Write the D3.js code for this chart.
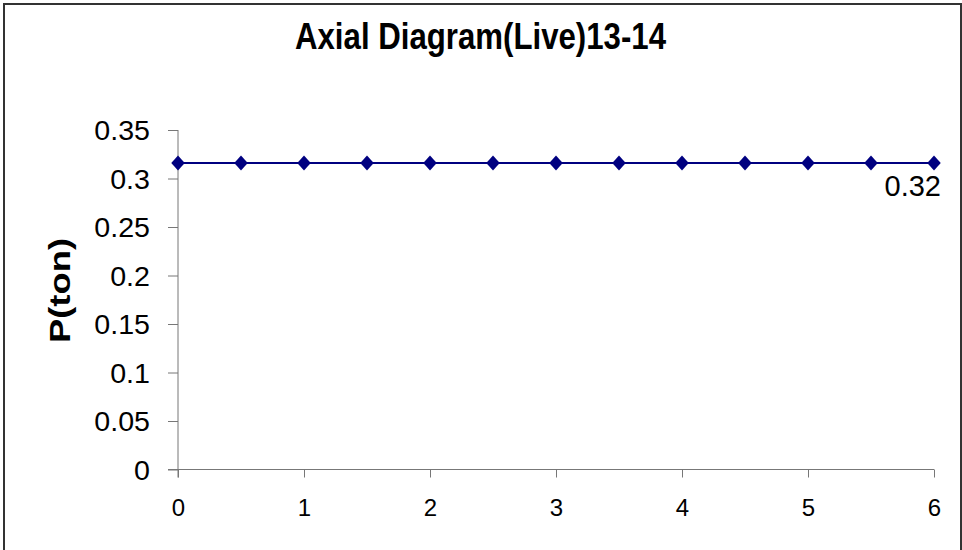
<!DOCTYPE html>
<html>
<head>
<meta charset="utf-8">
<script src="https://cdn.jsdelivr.net/npm/d3@7/dist/d3.min.js"></script>
<style>
  html, body { margin: 0; padding: 0; background: #fff; }
  svg { display: block; font-family: "Liberation Sans", Arial, sans-serif; }
</style>
</head>
<body>
<svg id="chart" width="962" height="550"></svg>
<script>
// Axial force along the member, positions in m
const positions = [0, 0.5, 1, 1.5, 2, 2.5, 3, 3.5, 4, 4.5, 5, 5.5, 6];
const forces = [0.316, 0.316, 0.316, 0.316, 0.316, 0.316, 0.316, 0.316, 0.316, 0.316, 0.316, 0.316, 0.316];
const xTicks = [0, 1, 2, 3, 4, 5, 6];
const yTicks = [0, 0.05, 0.1, 0.15, 0.2, 0.25, 0.3, 0.35];
const titleText = "Axial Diagram(Live)13-14";
const yTitle = "P(ton)";

const svg = d3.select("#chart");

// outer frame
svg.append("rect")
  .attr("x", 4).attr("y", 4)
  .attr("width", 957).attr("height", 560)
  .attr("fill", "#fff")
  .attr("stroke", "#333").attr("stroke-width", 2);

const x = d3.scaleLinear().domain([0, 6]).range([178, 934]);
const y = d3.scaleLinear().domain([0, 0.35]).range([469.5, 130]);

const axisColor = "#777";

// y axis
const yAxis = svg.append("g")
  .attr("transform", `translate(${x(0)},0)`)
  .call(d3.axisLeft(y).tickValues(yTicks).tickSize(10).tickPadding(18)
        .tickFormat(d => d3.format("")(+d.toFixed(2))));
yAxis.select(".domain").attr("stroke", axisColor).attr("d", `M0,${y(0.35)}V${y(0) + 8}`);
yAxis.selectAll(".tick line").attr("stroke", axisColor);
yAxis.selectAll(".tick text")
  .attr("fill", "#000")
  .style("font-size", "27px")
  .attr("dy", "0.36em")
  .each(function () {
    const w = this.getComputedTextLength();
    d3.select(this).attr("textLength", w * 1.06).attr("lengthAdjust", "spacingAndGlyphs");
  });

// x axis
const xAxis = svg.append("g")
  .attr("transform", `translate(0,${y(0)})`)
  .call(d3.axisBottom(x).tickValues(xTicks).tickSize(8).tickPadding(21).tickFormat(d3.format("d")));
xAxis.select(".domain").attr("stroke", axisColor).attr("d", `M${x(0) - 10},0H${x(6)}`);
xAxis.selectAll(".tick line").attr("stroke", axisColor);
xAxis.selectAll(".tick text")
  .attr("fill", "#000")
  .style("font-size", "24px")
  .attr("dy", "0.71em");

// series line
const pts = positions.map((p, i) => [p, forces[i]]);
svg.append("path")
  .datum(pts)
  .attr("fill", "none")
  .attr("stroke", "#000080")
  .attr("stroke-width", 2)
  .attr("d", d3.line().x(d => x(d[0])).y(d => y(d[1])));

// diamond markers
const diamond = (cx, cy, r) => `M${cx},${cy - r}L${cx + r * 0.9},${cy}L${cx},${cy + r}L${cx - r * 0.9},${cy}Z`;
svg.append("g").selectAll("path")
  .data(pts)
  .join("path")
  .attr("d", d => diamond(x(d[0]), y(d[1]), 7.5))
  .attr("fill", "#000080");

// value label on the last point
const last = pts[pts.length - 1];
svg.append("text")
  .attr("x", x(last[0]) + 7)
  .attr("y", y(last[1]) + 33)
  .attr("text-anchor", "end")
  .style("font-size", "29px")
  .attr("fill", "#000")
  .text(d3.format(".2f")(last[1]));

// chart title
svg.append("text")
  .attr("x", 480.5).attr("y", 49)
  .attr("text-anchor", "middle")
  .style("font-size", "37px").style("font-weight", "bold")
  .attr("textLength", 371).attr("lengthAdjust", "spacingAndGlyphs")
  .text(titleText);

// y axis title
svg.append("text")
  .attr("transform", `translate(70,290.5) rotate(-90)`)
  .attr("text-anchor", "middle")
  .style("font-size", "29px").style("font-weight", "bold")
  .attr("textLength", 105).attr("lengthAdjust", "spacingAndGlyphs")
  .text(yTitle);
</script>
</body>
</html>
